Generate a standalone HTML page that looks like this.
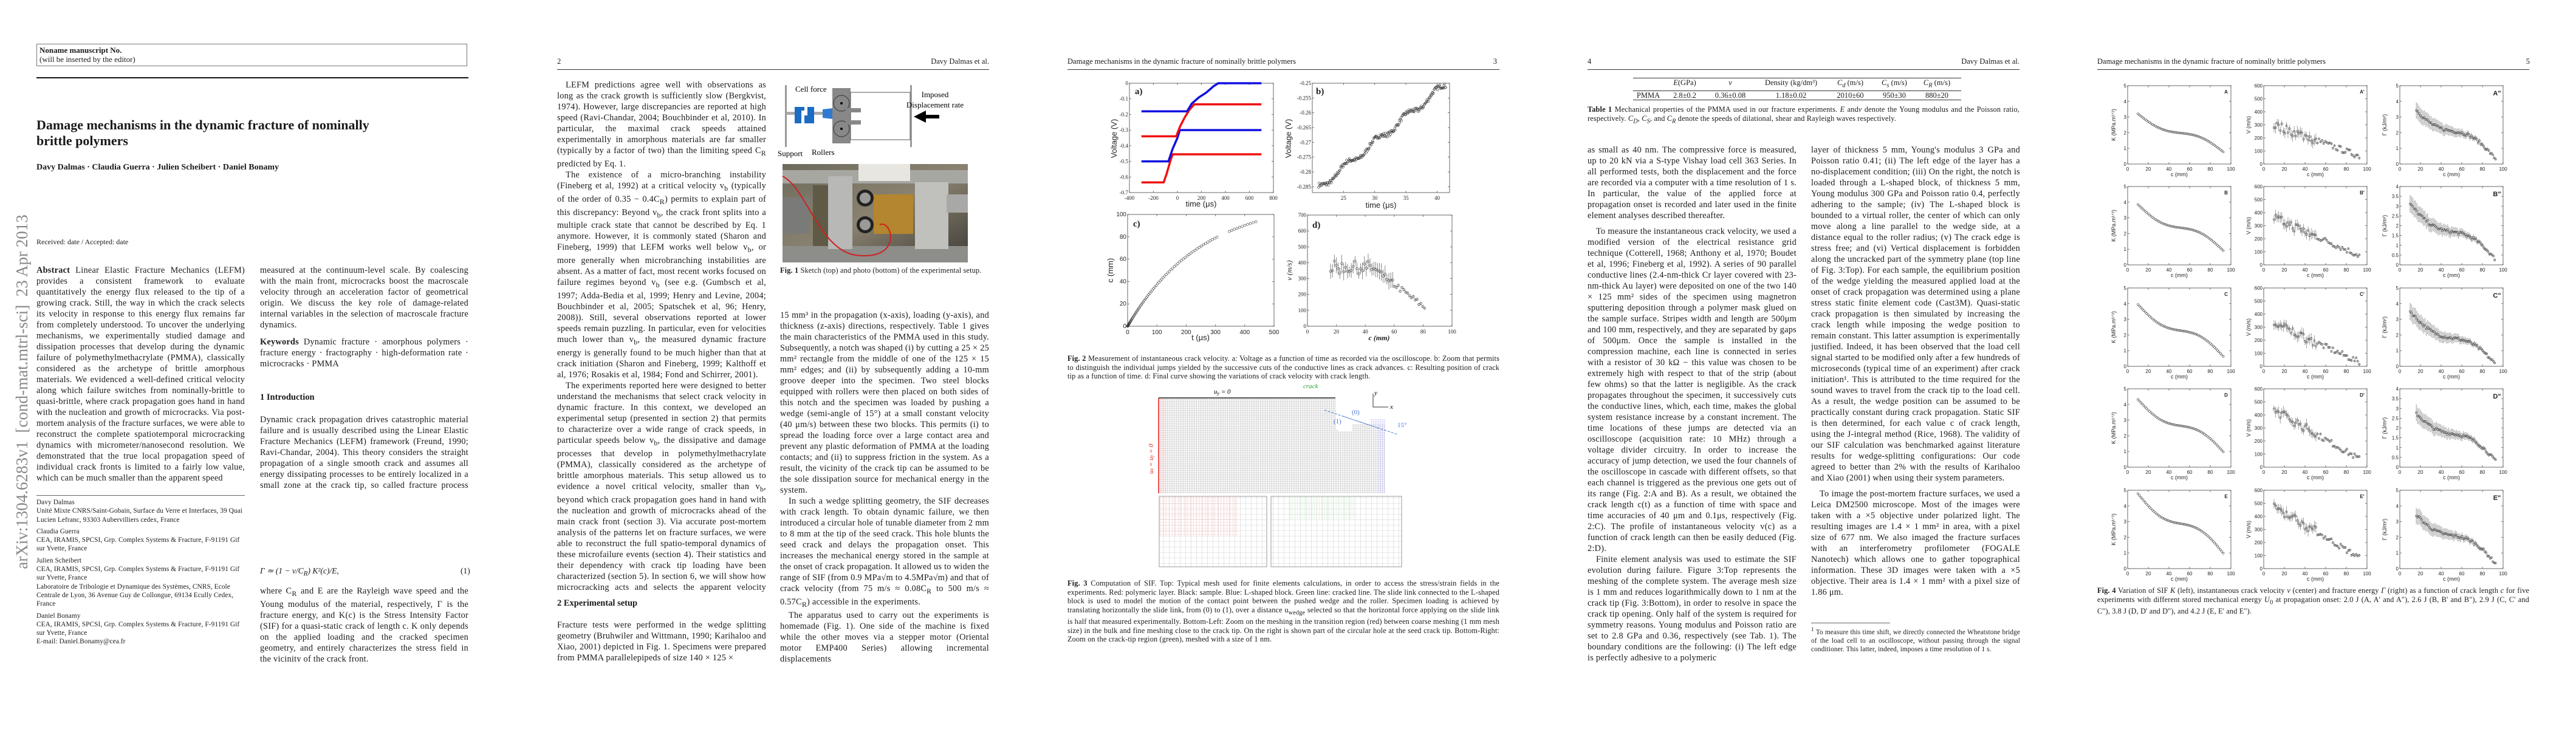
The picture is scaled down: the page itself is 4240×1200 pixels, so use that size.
<!DOCTYPE html>
<html><head><meta charset="utf-8">
<style>
body{margin:0;width:4240px;height:1200px;background:#fff;position:relative;overflow:hidden;font-family:"Liberation Serif",serif;color:#1a1a1a}
.a{position:absolute}
.t{position:absolute;font-size:14.3px;letter-spacing:0.25px;line-height:18px;text-align:justify;overflow:hidden;hyphens:auto}
.t p{margin:0;text-indent:14px}
.t p.n{text-indent:0}
.cap{position:absolute;font-size:12.3px;letter-spacing:0.15px;line-height:14.5px;text-align:justify;overflow:hidden}
.fn{position:absolute;font-size:11.3px;letter-spacing:0.1px;line-height:14.3px;overflow:hidden}
.hd{position:absolute;font-size:12.5px;top:94px}
.rule{position:absolute;height:1px;background:#333}
h3{margin:0;font-size:14.5px;font-weight:bold}
svg{position:absolute;overflow:visible}
</style></head><body>

<!-- ============ PAGE 1 ============ -->
<div class="a" style="left:60px;top:72px;width:709px;height:37px;border:1px solid #777;font-size:13px;line-height:15px;padding:2px 4px;box-sizing:border-box"><b>Noname manuscript No.</b><br>(will be inserted by the editor)</div>
<div class="a" style="left:60px;top:127px;width:711px;height:2px;background:#111"></div>
<div class="a" style="left:60px;top:193px;font-size:22px;line-height:26px;font-weight:bold;width:711px">Damage mechanisms in the dynamic fracture of nominally<br>brittle polymers</div>
<div class="a" style="left:60px;top:268px;font-size:14px;font-weight:bold">Davy Dalmas · Claudia Guerra · Julien Scheibert · Daniel Bonamy</div>
<div class="a" style="left:-276px;top:627px;width:624px;height:36px;line-height:36px;font-size:27px;color:#888;text-align:center;transform:rotate(-90deg);white-space:nowrap">arXiv:1304.6283v1 &nbsp;[cond-mat.mtrl-sci] &nbsp;23 Apr 2013</div>
<div class="a" style="left:60px;top:391px;font-size:12px">Received: date / Accepted: date</div>

<div class="t" style="left:60px;top:436px;width:343px;height:362px"><p class="n"><b>Abstract</b> Linear Elastic Fracture Mechanics (LEFM) provides a consistent framework to evaluate quantitatively the energy flux released to the tip of a growing crack. Still, the way in which the crack selects its velocity in response to this energy flux remains far from completely understood. To uncover the underlying mechanisms, we experimentally studied damage and dissipation processes that develop during the dynamic failure of polymethylmethacrylate (PMMA), classically considered as the archetype of brittle amorphous materials. We evidenced a well-defined critical velocity along which failure switches from nominally-brittle to quasi-brittle, where crack propagation goes hand in hand with the nucleation and growth of microcracks. Via post-mortem analysis of the fracture surfaces, we were able to reconstruct the complete spatiotemporal microcracking dynamics with micrometer/nanosecond resolution. We demonstrated that the true local propagation speed of individual crack fronts is limited to a fairly low value, which can be much smaller than the apparent speed</p></div>
<div class="rule" style="left:60px;top:815px;width:343px;background:#666"></div>
<div class="fn" style="left:60px;top:820px;width:343px;height:262px">Davy Dalmas<br>Unité Mixte CNRS/Saint-Gobain, Surface du Verre et Interfaces, 39 Quai Lucien Lefranc, 93303 Aubervilliers cedex, France<br><div style="height:5px"></div>Claudia Guerra<br>CEA, IRAMIS, SPCSI, Grp. Complex Systems &amp; Fracture, F-91191 Gif sur Yvette, France<br><div style="height:5px"></div>Julien Scheibert<br>CEA, IRAMIS, SPCSI, Grp. Complex Systems &amp; Fracture, F-91191 Gif sur Yvette, France<br>Laboratoire de Tribologie et Dynamique des Systèmes, CNRS, Ecole Centrale de Lyon, 36 Avenue Guy de Collongue, 69134 Ecully Cedex, France<br><div style="height:5px"></div>Daniel Bonamy<br>CEA, IRAMIS, SPCSI, Grp. Complex Systems &amp; Fracture, F-91191 Gif sur Yvette, France<br>E-mail: Daniel.Bonamy@cea.fr</div>

<div class="t" style="left:428px;top:436px;width:343px;height:110px"><p class="n">measured at the continuum-level scale. By coalescing with the main front, microcracks boost the macroscale velocity through an acceleration factor of geometrical origin. We discuss the key role of damage-related internal variables in the selection of macroscale fracture dynamics.</p></div>
<div class="t" style="left:428px;top:554px;width:343px;height:56px"><p class="n"><b>Keywords</b> Dynamic fracture · amorphous polymers · fracture energy · fractography · high-deformation rate · microcracks · PMMA</p></div>
<div class="a" style="left:428px;top:646px"><h3>1 Introduction</h3></div>
<div class="t" style="left:428px;top:682px;width:343px;height:128px"><p class="n">Dynamic crack propagation drives catastrophic material failure and is usually described using the Linear Elastic Fracture Mechanics (LEFM) framework (Freund, 1990; Ravi-Chandar, 2004). This theory considers the straight propagation of a single smooth crack and assumes all energy dissipating processes to be entirely localized in a small zone at the crack tip, so called fracture process zone (FPZ). Crack growth velocity v is then selected by the balance between the mechanical energy that flows within the FPZ per time unit and the dissipated energy within the FPZ over the same time unit. This yields (Freund, 1990):</p></div>
<div class="a" style="left:428px;top:932px;font-size:13.5px;font-style:italic">Γ ≃ (1 − v/C<sub>R</sub>) K²(c)/E,</div>
<div class="a" style="left:758px;top:932px;font-size:13.5px">(1)</div>
<div class="t" style="left:428px;top:964px;width:343px;height:126px"><p class="n">where C<sub>R</sub> and E are the Rayleigh wave speed and the Young modulus of the material, respectively, Γ is the fracture energy, and K(c) is the Stress Intensity Factor (SIF) for a quasi-static crack of length c. K only depends on the applied loading and the cracked specimen geometry, and entirely characterizes the stress field in the vicinity of the crack front.</p></div>

<!-- ============ PAGE 2 ============ -->
<div class="hd" style="left:917px">2</div>
<div class="hd" style="left:1500px;width:128px;text-align:right">Davy Dalmas et al.</div>
<div class="rule" style="left:917px;top:114px;width:711px"></div>
<div class="t" style="left:917px;top:131px;width:344px;height:846px"><p>LEFM predictions agree well with observations as long as the crack growth is sufficiently slow (Bergkvist, 1974). However, large discrepancies are reported at high speed (Ravi-Chandar, 2004; Bouchbinder et al, 2010). In particular, the maximal crack speeds attained experimentally in amorphous materials are far smaller (typically by a factor of two) than the limiting speed C<sub>R</sub> predicted by Eq. 1.</p><p>The existence of a micro-branching instability (Fineberg et al, 1992) at a critical velocity v<sub>b</sub> (typically of the order of 0.35 − 0.4C<sub>R</sub>) permits to explain part of this discrepancy: Beyond v<sub>b</sub>, the crack front splits into a multiple crack state that cannot be described by Eq. 1 anymore. However, it is commonly stated (Sharon and Fineberg, 1999) that LEFM works well below v<sub>b</sub>, or more generally when microbranching instabilities are absent. As a matter of fact, most recent works focused on failure regimes beyond v<sub>b</sub> (see e.g. (Gumbsch et al, 1997; Adda-Bedia et al, 1999; Henry and Levine, 2004; Bouchbinder et al, 2005; Spatschek et al, 96; Henry, 2008)). Still, several observations reported at lower speeds remain puzzling. In particular, even for velocities much lower than v<sub>b</sub>, the measured dynamic fracture energy is generally found to be much higher than that at crack initiation (Sharon and Fineberg, 1999; Kalthoff et al, 1976; Rosakis et al, 1984; Fond and Schirrer, 2001).</p><p>The experiments reported here were designed to better understand the mechanisms that select crack velocity in dynamic fracture. In this context, we developed an experimental setup (presented in section 2) that permits to characterize over a wide range of crack speeds, in particular speeds below v<sub>b</sub>, the dissipative and damage processes that develop in polymethylmethacrylate (PMMA), classically considered as the archetype of brittle amorphous materials. This setup allowed us to evidence a novel critical velocity, smaller than v<sub>b</sub>, beyond which crack propagation goes hand in hand with the nucleation and growth of microcracks ahead of the main crack front (section 3). Via accurate post-mortem analysis of the patterns let on fracture surfaces, we were able to reconstruct the full spatio-temporal dynamics of these microfailure events (section 4). Their statistics and their dependency with crack tip loading have been characterized (section 5). In section 6, we will show how microcracking acts and selects the apparent velocity measured at the continuum-level scale.</p></div>
<div class="a" style="left:917px;top:985px"><h3>2 Experimental setup</h3></div>
<div class="t" style="left:917px;top:1020px;width:344px;height:72px"><p class="n">Fracture tests were performed in the wedge splitting geometry (Bruhwiler and Wittmann, 1990; Karihaloo and Xiao, 2001) depicted in Fig. 1. Specimens were prepared from PMMA parallelepipeds of size 140 × 125 ×</p></div>

<svg style="left:1284px;top:136px" width="344" height="130">
 <rect x="8" y="4" width="3" height="102" fill="#999"/>
 <rect x="214" y="4" width="3" height="102" fill="#999"/>
 <rect x="10" y="48" width="80" height="5" fill="#aaa"/>
 <rect x="24" y="40" width="32" height="27" fill="#1a6cc4"/>
 <rect x="35" y="46" width="5" height="21" fill="#fff"/><rect x="40" y="40" width="5" height="14" fill="#fff"/>
 <polygon points="70,44 105,40 105,62 70,58" fill="#2f7ad0"/>
 <rect x="86" y="9" width="30" height="91" fill="#888"/>
 <circle cx="101" cy="34" r="13" fill="none" stroke="#333"/><circle cx="101" cy="34" r="2" fill="#000"/>
 <circle cx="101" cy="76" r="13" fill="none" stroke="#333"/><circle cx="101" cy="76" r="2" fill="#000"/>
 <rect x="116" y="16" width="98" height="78" fill="none" stroke="#555"/>
 <rect x="108" y="42" width="25" height="7" fill="#888"/><rect x="108" y="62" width="25" height="7" fill="#888"/>
 <polygon points="220,56 240,46 240,53 262,53 262,59 240,59 240,66" fill="#000"/>
 <text x="25" y="15" font-size="13" font-family="Liberation Serif">Cell force</text>
 <text x="255" y="24" font-size="13" font-family="Liberation Serif" text-anchor="middle">Imposed</text>
 <text x="255" y="41" font-size="13" font-family="Liberation Serif" text-anchor="middle">Displacement rate</text>
 <text x="-4" y="121" font-size="13" font-family="Liberation Serif">Support</text>
 <text x="52" y="119" font-size="13" font-family="Liberation Serif">Rollers</text>
</svg>
<svg style="left:1288px;top:270px" width="305" height="162">
 <defs><linearGradient id="pg" x1="0" x2="1" y1="0" y2="1"><stop offset="0" stop-color="#6d6a5c"/><stop offset="0.5" stop-color="#8a8270"/><stop offset="1" stop-color="#3e3c36"/></linearGradient></defs>
 <rect width="305" height="162" fill="url(#pg)"/>
 <rect x="0" y="10" width="305" height="22" fill="#a7a7a2"/>
 <rect x="0" y="135" width="305" height="27" fill="#8d8d8a"/>
 <rect x="50" y="35" width="45" height="100" fill="#5e5a46"/>
 <rect x="75" y="20" width="40" height="120" fill="#b8b8b6"/>
 <rect x="150" y="50" width="65" height="65" fill="#b3862f"/>
 <rect x="218" y="30" width="55" height="110" fill="#c0c0bd"/>
 <rect x="0" y="55" width="45" height="60" fill="#7a7a78"/>
 <circle cx="136" cy="56" r="14" fill="#222"/><circle cx="136" cy="56" r="9" fill="#9a9a98"/>
 <circle cx="136" cy="100" r="14" fill="#222"/><circle cx="136" cy="100" r="9" fill="#9a9a98"/>
 <rect x="125" y="0" width="85" height="28" fill="#e8e6e0"/>
 <path d="M0,20 C40,40 60,140 120,150 C200,160 180,90 160,100" stroke="#d02020" stroke-width="2" fill="none"/>
 <rect x="270" y="50" width="35" height="30" fill="#a8a8a6"/>
</svg>
<div class="cap" style="left:1284px;top:438px;width:344px"><b>Fig. 1</b> Sketch (top) and photo (bottom) of the experimental setup.</div>
<div class="t" style="left:1284px;top:510px;width:344px;height:582px"><p class="n">15 mm³ in the propagation (x-axis), loading (y-axis), and thickness (z-axis) directions, respectively. Table 1 gives the main characteristics of the PMMA used in this study. Subsequently, a notch was shaped (i) by cutting a 25 × 25 mm² rectangle from the middle of one of the 125 × 15 mm² edges; and (ii) by subsequently adding a 10-mm groove deeper into the specimen. Two steel blocks equipped with rollers were then placed on both sides of this notch and the specimen was loaded by pushing a wedge (semi-angle of 15°) at a small constant velocity (40 μm/s) between these two blocks. This permits (i) to spread the loading force over a large contact area and prevent any plastic deformation of PMMA at the loading contacts; and (ii) to suppress friction in the system. As a result, the vicinity of the crack tip can be assumed to be the sole dissipation source for mechanical energy in the system.</p><p>In such a wedge splitting geometry, the SIF decreases with crack length. To obtain dynamic failure, we then introduced a circular hole of tunable diameter from 2 mm to 8 mm at the tip of the seed crack. This hole blunts the seed crack and delays the propagation onset. This increases the mechanical energy stored in the sample at the onset of crack propagation. It allowed us to widen the range of SIF (from 0.9 MPa√m to 4.5MPa√m) and that of crack velocity (from 75 m/s ≈ 0.08C<sub>R</sub> to 500 m/s ≈ 0.57C<sub>R</sub>) accessible in the experiments.</p><p>The apparatus used to carry out the experiments is homemade (Fig. 1). One side of the machine is fixed while the other moves via a stepper motor (Oriental motor EMP400 Series) allowing incremental displacements</p></div>

<!-- ============ PAGE 3 ============ -->
<div class="hd" style="left:1757px">Damage mechanisms in the dynamic fracture of nominally brittle polymers</div>
<div class="hd" style="left:2440px;width:24px;text-align:right">3</div>
<div class="rule" style="left:1757px;top:114px;width:711px"></div>
<svg id="f2" style="left:0;top:0" width="4240" height="1200"></svg>
<div class="cap" style="left:1757px;top:583px;width:711px">
<b>Fig. 2</b> Measurement of instantaneous crack velocity. a: Voltage as a function of time as recorded via the oscilloscope. b: Zoom that permits to distinguish the individual jumps yielded by the successive cuts of the conductive lines as crack advances. c: Resulting position of crack tip as a function of time. d: Final curve showing the variations of crack velocity with crack length.</div>

<svg style="left:1880px;top:640px" width="440" height="300">
 <defs>
  <pattern id="mg" width="3" height="3" patternUnits="userSpaceOnUse"><path d="M3,0V3H0" fill="none" stroke="#8a8a8a" stroke-width="0.6"/></pattern>
  <pattern id="mr" width="3" height="3" patternUnits="userSpaceOnUse"><path d="M3,0V3H0" fill="none" stroke="#f08a8a" stroke-width="0.6"/></pattern>
  <pattern id="mb" width="3" height="3" patternUnits="userSpaceOnUse"><path d="M3,0V3H0" fill="none" stroke="#9a9af0" stroke-width="0.6"/></pattern>
  <pattern id="mc" width="9" height="9" patternUnits="userSpaceOnUse"><path d="M9,0V9H0" fill="none" stroke="#aaa" stroke-width="0.6"/></pattern>
  <pattern id="mcr" width="5" height="5" patternUnits="userSpaceOnUse"><path d="M5,0V5H0" fill="none" stroke="#f3a0a0" stroke-width="0.6"/></pattern>
  <pattern id="mcg" width="4" height="4" patternUnits="userSpaceOnUse"><path d="M4,0V4H0" fill="none" stroke="#bfe8bf" stroke-width="0.6"/></pattern>
 </defs>
 <path d="M27,15 H318 V60 Q318,70 328,70 H345 V58 H400 V172 H27 Z" fill="url(#mg)"/>
 <rect x="27" y="15" width="12" height="157" fill="url(#mr)"/>
 <path d="M375,50 H400 V172 H388 V60 H375Z" fill="url(#mb)"/>
 <line x1="27" y1="15" x2="27" y2="172" stroke="#e02020" stroke-width="1.5"/>
 <line x1="27" y1="15" x2="318" y2="15" stroke="#222" stroke-width="1.5"/>
 <text x="118" y="8" font-size="11" font-style="italic" font-family="Liberation Serif">u<tspan font-size="8" dy="2">y</tspan><tspan dy="-2"> = 0</tspan></text>
 <text x="265" y="-1" font-size="11" font-style="italic" fill="#2a2" font-family="Liberation Serif">crack</text>
 <text x="18" y="140" font-size="11" font-style="italic" fill="#e02020" transform="rotate(-90 18 140)" font-family="Liberation Serif">u<tspan font-size="8">x</tspan> = u<tspan font-size="8">y</tspan> = 0</text>
 <path d="M300,35 L390,65 M330,45 L420,75" stroke="#4a7ad0" stroke-dasharray="4,2"/>
 <text x="345" y="42" font-size="11" fill="#4a7ad0" font-family="Liberation Serif">(0)</text>
 <text x="315" y="57" font-size="11" fill="#4a7ad0" font-family="Liberation Serif">(1)</text>
 <text x="420" y="63" font-size="11" fill="#4a7ad0" font-family="Liberation Serif">15°</text>
 <path d="M380,8 V30 H405" stroke="#333" fill="none"/><text x="382" y="10" font-size="11" font-style="italic" font-family="Liberation Serif">y</text><text x="408" y="33" font-size="11" font-style="italic" font-family="Liberation Serif">x</text>
 <rect x="28" y="177" width="177" height="116" fill="url(#mc)" stroke="#999"/>
 <rect x="28" y="177" width="130" height="65" fill="url(#mcr)"/>
 <rect x="212" y="177" width="215" height="116" fill="url(#mc)" stroke="#999"/>
 <rect x="240" y="177" width="110" height="38" fill="url(#mcg)"/>
</svg>
<div class="cap" style="left:1757px;top:953px;width:711px;height:120px"><b>Fig. 3</b> Computation of SIF. Top: Typical mesh used for finite elements calculations, in order to access the stress/strain fields in the experiments. Red: polymeric layer. Black: sample. Blue: L-shaped block. Green line: cracked line. The slide link connected to the L-shaped block is used to model the motion of the contact point between the pushed wedge and the roller. Specimen loading is achieved by translating horizontally the slide link, from (0) to (1), over a distance u<sub>wedge</sub> selected so that the horizontal force applying on the slide link is half that measured experimentally. Bottom-Left: Zoom on the meshing in the transition region (red) between coarse meshing (1 mm mesh size) in the bulk and fine meshing close to the crack tip. On the right is shown part of the circular hole at the seed crack tip. Bottom-Right: Zoom on the crack-tip region (green), meshed with a size of 1 nm.</div>

<!-- ============ PAGE 4 ============ -->
<div class="hd" style="left:2613px">4</div>
<div class="hd" style="left:3190px;width:134px;text-align:right">Davy Dalmas et al.</div>
<div class="rule" style="left:2613px;top:114px;width:711px"></div>
<div class="a" style="left:2688px;top:128px;width:540px;border-top:1px solid #333;border-bottom:1px solid #333;font-size:12.5px;line-height:14px">
<div style="display:flex;border-bottom:1px solid #333"><span style="width:50px"></span><span style="width:70px;text-align:center"><i>E</i>(GPa)</span><span style="width:80px;text-align:center"><i>ν</i></span><span style="width:120px;text-align:center">Density (kg/dm³)</span><span style="width:75px;text-align:center"><i>C<sub>d</sub></i> (m/s)</span><span style="width:70px;text-align:center"><i>C<sub>s</sub></i> (m/s)</span><span style="width:70px;text-align:center"><i>C<sub>R</sub></i> (m/s)</span></div>
<div style="display:flex"><span style="width:50px;text-align:center">PMMA</span><span style="width:70px;text-align:center">2.8±0.2</span><span style="width:80px;text-align:center">0.36±0.08</span><span style="width:120px;text-align:center">1.18±0.02</span><span style="width:75px;text-align:center">2010±60</span><span style="width:70px;text-align:center">950±30</span><span style="width:70px;text-align:center">880±20</span></div></div>
<div class="cap" style="left:2613px;top:173px;width:711px"><b>Table 1</b> Mechanical properties of the PMMA used in our fracture experiments. <i>E</i> and<i>ν</i> denote the Young modulus and the Poisson ratio, respectively. <i>C<sub>D</sub></i>, <i>C<sub>S</sub></i>, and <i>C<sub>R</sub></i> denote the speeds of dilational, shear and Rayleigh waves respectively.</div>
<div class="t" style="left:2613px;top:238px;width:344px;height:852px"><p class="n">as small as 40 nm. The compressive force is measured, up to 20 kN via a S-type Vishay load cell 363 Series. In all performed tests, both the displacement and the force are recorded via a computer with a time resolution of 1 s. In particular, the value of the applied force at propagation onset is recorded and later used in the finite element analyses described thereafter.</p><div style="height:8px"></div><p>To measure the instantaneous crack velocity, we used a modified version of the electrical resistance grid technique (Cotterell, 1968; Anthony et al, 1970; Boudet et al, 1996; Fineberg et al, 1992). A series of 90 parallel conductive lines (2.4-nm-thick Cr layer covered with 23-nm-thick Au layer) were deposited on one of the two 140 × 125 mm² sides of the specimen using magnetron sputtering deposition through a polymer mask glued on the sample surface. Stripes width and length are 500μm and 100 mm, respectively, and they are separated by gaps of 500μm. Once the sample is installed in the compression machine, each line is connected in series with a resistor of 30 kΩ − this value was chosen to be extremely high with respect to that of the strip (about few ohms) so that the latter is negligible. As the crack propagates throughout the specimen, it successively cuts the conductive lines, which, each time, makes the global system resistance increase by a constant increment. The time locations of these jumps are detected via an oscilloscope (acquisition rate: 10 MHz) through a voltage divider circuitry. In order to increase the accuracy of jump detection, we used the four channels of the oscilloscope in cascade with different offsets, so that each channel is triggered as the previous one gets out of its range (Fig. 2:A and B). As a result, we obtained the crack length c(t) as a function of time with space and time accuracies of 40 μm and 0.1μs, respectively (Fig. 2:C). The profile of instantaneous velocity v(c) as a function of crack length can then be easily deduced (Fig. 2:D).</p><p>Finite element analysis was used to estimate the SIF evolution during failure. Figure 3:Top represents the meshing of the complete system. The average mesh size is 1 mm and reduces logarithmically down to 1 nm at the crack tip (Fig. 3:Bottom), in order to resolve in space the crack tip opening. Only half of the system is required for symmetry reasons. Young modulus and Poisson ratio are set to 2.8 GPa and 0.36, respectively (see Tab. 1). The boundary conditions are the following: (i) The left edge is perfectly adhesive to a polymeric</p></div>
<div class="t" style="left:2981px;top:238px;width:344px;height:768px"><p class="n">layer of thickness 5 mm, Young's modulus 3 GPa and Poisson ratio 0.41; (ii) The left edge of the layer has a no-displacement condition; (iii) On the right, the notch is loaded through a L-shaped block, of thickness 5 mm, Young modulus 300 GPa and Poisson ratio 0.4, perfectly adhering to the sample; (iv) The L-shaped block is bounded to a virtual roller, the center of which can only move along a line parallel to the wedge side, at a distance equal to the roller radius; (v) The crack edge is stress free; and (vi) Vertical displacement is forbidden along the uncracked part of the symmetry plane (top line of Fig. 3:Top). For each sample, the equilibrium position of the wedge yielding the measured applied load at the onset of crack propagation was determined using a plane stress static finite element code (Cast3M). Quasi-static crack propagation is then simulated by increasing the crack length while imposing the wedge position to remain constant. This latter assumption is experimentally justified. Indeed, it has been observed that the load cell signal started to be modified only after a few hundreds of microseconds (typical time of an experiment) after crack initiation¹. This is attributed to the time required for the sound waves to travel from the crack tip to the load cell. As a result, the wedge position can be assumed to be practically constant during crack propagation. Static SIF is then determined, for each value c of crack length, using the J-integral method (Rice, 1968). The validity of our SIF calculation was benchmarked against literature results for wedge-splitting configurations: Our code agreed to better than 2% with the results of Karihaloo and Xiao (2001) when using their system parameters.</p><div style="height:8px"></div><p>To image the post-mortem fracture surfaces, we used a Leica DM2500 microscope. Most of the images were taken with a ×5 objective under polarized light. The resulting images are 1.4 × 1 mm² in area, with a pixel size of 677 nm. We also imaged the fracture surfaces with an interferometry profilometer (FOGALE Nanotech) which allows one to gather topographical information. These 3D images were taken with a ×5 objective. Their area is 1.4 × 1 mm² with a pixel size of 1.86 μm.</p></div>
<div class="rule" style="left:2981px;top:1025px;width:130px;background:#666"></div>
<div class="fn" style="left:2981px;top:1030px;width:344px;text-align:justify"><sup>1</sup> To measure this time shift, we directly connected the Wheatstone bridge of the load cell to an oscilloscope, without passing through the signal conditioner. This latter, indeed, imposes a time resolution of 1 s.</div>

<!-- ============ PAGE 5 ============ -->
<div class="hd" style="left:3452px">Damage mechanisms in the dynamic fracture of nominally brittle polymers</div>
<div class="hd" style="left:4140px;width:24px;text-align:right">5</div>
<div class="rule" style="left:3452px;top:114px;width:711px"></div>
<div class="cap" style="left:3452px;top:965px;width:711px"><b>Fig. 4</b> Variation of SIF <i>K</i> (left), instantaneous crack velocity <i>v</i> (center) and fracture energy <i>Γ</i> (right) as a function of crack length <i>c</i> for five experiments with different stored mechanical energy <i>U</i><sub>0</sub> at propagation onset: 2.0 J (A, A' and A"), 2.6 J (B, B' and B"), 2.9 J (C, C' and C"), 3.8 J (D, D' and D"), and 4.2 J (E, E' and E").</div>

<script>
var NS="http://www.w3.org/2000/svg",S=document.getElementById("f2");
var seed=7;function rnd(){seed=(seed*16807)%2147483647;return seed/2147483647;}
function g(n,a,p){var e=document.createElementNS(NS,n);for(var k in a)e.setAttribute(k,a[k]);(p||S).appendChild(e);return e;}
function tx(x,y,s,o){o=o||{};var e=g("text",{x:x,y:y,"font-size":o.fs||9,"font-family":o.ff||"Liberation Sans, sans-serif","text-anchor":o.an||"middle",fill:"#222"});if(o.rot)e.setAttribute("transform","rotate(-90 "+x+" "+y+")");if(o.b)e.setAttribute("font-weight","bold");if(o.it)e.setAttribute("font-style","italic");e.textContent=s;return e;}
function plot(P){var X=function(v){return P.x+(v-P.x0)/(P.x1-P.x0)*P.w},Y=function(v){return P.y+P.h-(v-P.y0)/(P.y1-P.y0)*P.h};
g("rect",{x:P.x,y:P.y,width:P.w,height:P.h,fill:"none",stroke:"#444","stroke-width":0.8});
P.xt.forEach(function(v){var x=X(v);g("line",{x1:x,x2:x,y1:P.y+P.h,y2:P.y+P.h-3,stroke:"#444","stroke-width":.7});g("line",{x1:x,x2:x,y1:P.y,y2:P.y+3,stroke:"#444","stroke-width":.7});tx(x,P.y+P.h+(P.fs||8)+3,String(v),{fs:P.fs||8,ff:P.ff});});
P.yt.forEach(function(v){var y=Y(v);g("line",{x1:P.x,x2:P.x+3,y1:y,y2:y,stroke:"#444","stroke-width":.7});g("line",{x1:P.x+P.w,x2:P.x+P.w-3,y1:y,y2:y,stroke:"#444","stroke-width":.7});tx(P.x-2,y+3,String(v),{fs:P.fs||8,an:"end",ff:P.ff});});
return {X:X,Y:Y};}
function circ(x,y,r){g("circle",{cx:x,cy:y,r:r||1.7,fill:"none",stroke:"#333","stroke-width":.6});}
/* Fig 2 */
var A=plot({x:1859,y:137,w:237,h:180,x0:-400,x1:800,y0:-0.7,y1:0,xt:[-400,-200,0,200,400,600,800],yt:[0,-0.1,-0.2,-0.3,-0.4,-0.5,-0.6,-0.7],fs:9,ff:"Liberation Serif, serif"});
function pl(pts,col){g("polyline",{points:pts.map(function(p){return A.X(p[0])+","+A.Y(p[1])}).join(" "),fill:"none",stroke:col,"stroke-width":3.5});}
pl([[-300,-0.635],[-115,-0.635],[-90,-0.58],[-60,-0.5],[-40,-0.455],[700,-0.455]],"#f01010");
pl([[-300,-0.5],[-75,-0.5],[-40,-0.42],[0,-0.35],[20,-0.3],[700,-0.3]],"#1010e0");
pl([[-300,-0.34],[-10,-0.34],[20,-0.28],[60,-0.22],[100,-0.17],[140,-0.135],[700,-0.135]],"#f01010");
pl([[-300,-0.18],[80,-0.18],[120,-0.13],[180,-0.09],[240,-0.06],[300,-0.02],[340,0],[700,0]],"#1010e0");
tx(1868,155,"a)",{fs:15,ff:"Liberation Serif, serif",an:"start",b:1});
tx(1977,340,"time (μs)",{fs:13});tx(1838,228,"Voltage (V)",{fs:13,rot:1});
var B=plot({x:2160,y:137,w:226,h:180,x0:20,x1:42,y0:-0.287,y1:-0.25,xt:[25,30,35,40],yt:[-0.25,-0.255,-0.26,-0.265,-0.27,-0.275,-0.28,-0.285],fs:9,ff:"Liberation Serif, serif"});
for(var i=0;i<220;i++){var t=21+i*0.093;var v=-0.2855+(t-21)*0.00172+Math.sin(t*1.3)*0.0012+(rnd()-.5)*0.0015;circ(B.X(t),B.Y(v),1.8);}
tx(2166,155,"b)",{fs:15,ff:"Liberation Serif, serif",an:"start",b:1});
tx(2273,342,"time (μs)",{fs:13});tx(2125,228,"Voltage (V)",{fs:13,rot:1});
var C=plot({x:1856,y:353,w:241,h:184,x0:0,x1:500,y0:0,y1:100,xt:[0,100,200,300,400,500],yt:[0,20,40,60,80,100],fs:10});
for(var i=0;i<90;i++){var t=i*i/90/90*430+i*0.2;if(t>310&&t<340)continue;var c=113*(1-Math.exp(-t/250));circ(C.X(t),C.Y(c),1.9);}
tx(1865,373,"c)",{fs:15,ff:"Liberation Serif, serif",an:"start",b:1});
tx(1976,560,"t (μs)",{fs:13});tx(1832,445,"c (mm)",{fs:13,rot:1});
var D=plot({x:2152,y:354,w:238,h:183,x0:0,x1:100,y0:0,y1:700,xt:[0,20,40,60,80,100],yt:[0,100,200,300,400,500,600,700],fs:9,ff:"Liberation Serif, serif"});
for(var c=16;c<=82;c+=1.3){var v=c<45?370+(rnd()-.5)*80:370-(c-45)*7+(rnd()-.5)*40;var e=c<60?30+rnd()*25:8;g("line",{x1:D.X(c),x2:D.X(c),y1:D.Y(v-e),y2:D.Y(v+e),stroke:"#555","stroke-width":.7});circ(D.X(c),D.Y(v),2);}
tx(2160,375,"d)",{fs:15,ff:"Liberation Serif, serif",an:"start",b:1});
tx(2270,560,"c (mm)",{fs:12,ff:"Liberation Serif, serif",it:1,b:1});tx(2126,445,"v (m/s)",{fs:12,ff:"Liberation Serif, serif",rot:1,it:1});
/* Fig 4 */
var rows=[141,307,474,640,807],H=129,cols=[3502,3726,3950],W=170;
var K=[[3.2,0.75],[3.85,0.88],[3.95,0.6],[4.32,0.95],[4.78,0.95]];
var V=[[300,60],[360,70],[330,30],[440,60],[480,80]];
var G=[[3.9,0.3,5],[3.1,0.25,4],[3.5,0.1,5],[3.1,0.3,4],[3.9,0.3,5]];
var L=["A","B","C","D","E"];
function sg(t){return t+0.12*Math.sin(2*Math.PI*t);}
for(var r=0;r<5;r++){var y=rows[r];
 var p=plot({x:cols[0],y:y,w:W,h:H,x0:0,x1:100,y0:0,y1:5,xt:[0,20,40,60,80,100],yt:[0,1,2,3,4,5]});
 for(var c=10;c<=93;c+=1.4){var t=(c-10)/83;circ(p.X(c),p.Y(K[r][0]+(K[r][1]-K[r][0])*sg(t)),1.6);}
 tx(cols[0]+W-8,y+13,L[r],{fs:8,b:1});tx(cols[0]+W/2,y+H+20,"c (mm)",{fs:9});tx(cols[0]-20,y+H/2,"K (MPa.m\u00B9\u141F\u00B2)",{fs:9,rot:1});
 var q=plot({x:cols[1],y:y,w:W,h:H,x0:0,x1:100,y0:0,y1:600,xt:[0,20,40,60,80,100],yt:[0,100,200,300,400,500,600]});
 for(var c=10;c<=93;c+=1.5){var t=(c-10)/83;var v=V[r][0]+(V[r][1]-V[r][0])*t+(rnd()-.5)*(t<.5?70:45);var e=t<.5?25+rnd()*20:10;g("line",{x1:q.X(c),x2:q.X(c),y1:q.Y(v-e),y2:q.Y(v+e),stroke:"#777","stroke-width":.7});circ(q.X(c),q.Y(v),1.6);}
 tx(cols[1]+W-8,y+13,L[r]+"'",{fs:8,b:1});tx(cols[1]+W/2,y+H+20,"c (mm)",{fs:9});tx(cols[1]-22,y+H/2,"V (m/s)",{fs:9,rot:1});
 var gm=G[r][2],yt=[];for(var k=0;k<=gm;k+=(gm==4?0.5:1))yt.push(k);
 var s=plot({x:cols[2],y:y,w:W,h:H,x0:0,x1:100,y0:0,y1:gm,xt:[0,20,40,60,80,100],yt:yt});
 for(var c=(r==1||r==2?10:16);c<=93;c+=1.3){var t=(c-10)/83;var v=G[r][0]+(G[r][1]-G[r][0])*sg(t)+(rnd()-.5)*0.2*gm/5;var e=(1-t)*0.5*gm/5+0.05;g("line",{x1:s.X(c),x2:s.X(c),y1:s.Y(v-e),y2:s.Y(v+e),stroke:"#aaa","stroke-width":1.2});circ(s.X(c),s.Y(v),1.6);}
 tx(cols[2]+W-10,y+16,L[r]+'"',{fs:11,b:1});tx(cols[2]+W/2,y+H+20,"c (mm)",{fs:9});tx(cols[2]-22,y+H/2,"Γ (kJ/m²)",{fs:9,rot:1});
}
</script>
</body></html>
